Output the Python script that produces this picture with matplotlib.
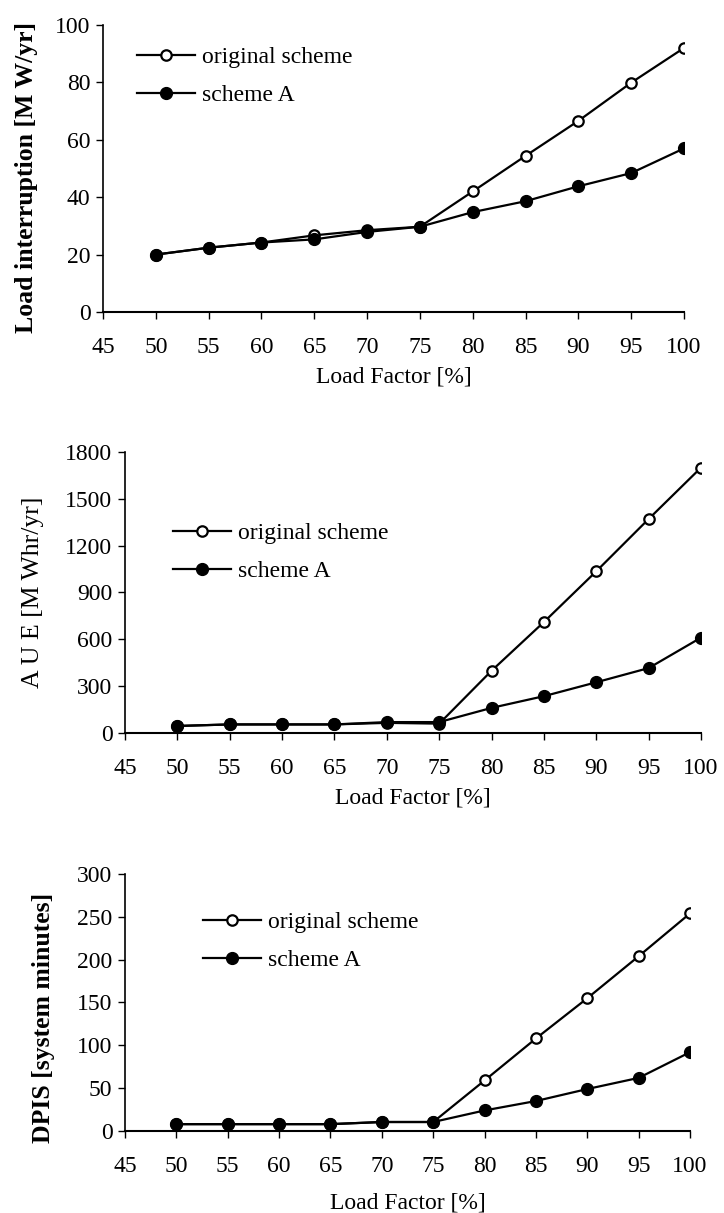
import numpy as np
import matplotlib.pyplot as plt

load_factor = [50, 55, 60, 65, 70, 75, 80, 85, 90, 95, 100]

li_original = [20, 22.4, 24.2, 26.7, 28.5, 29.7, 42, 54.4, 66.6, 79.9, 92]
li_scheme_a = [20, 22.4, 24.2, 25.3, 27.9, 29.7, 34.8, 38.6, 43.8, 48.4, 57]

aue_original = [45, 55, 55, 55, 65, 60, 399, 711, 1036, 1371, 1700]
aue_scheme_a = [45, 55, 55, 55, 70, 70, 161, 236, 325, 416, 611]

dpis_original = [8, 8, 8, 8, 10.5, 10.5, 59, 108, 155, 204, 254]
dpis_scheme_a = [8, 8, 8, 8, 10.5, 10.5, 24, 35, 49, 62, 92]

xticks = [45, 50, 55, 60, 65, 70, 75, 80, 85, 90, 95, 100]

plt.rcParams['font.family'] = ['Liberation Serif', 'DejaVu Serif']
plt.rcParams['font.size'] = 17

fig = plt.figure(figsize=(7.24, 12.13), dpi=100)

panels = [
    dict(rect=[0.1423, 0.7428, 0.8025, 0.2366], orig=li_original, a=li_scheme_a,
         ylim=(0, 100), yticks=[0, 20, 40, 60, 80, 100],
         ylabel='Load interruption [M W/yr]', ybold=True, ylab_xy=(-0.112, 0.47),
         xlab_y=-0.19, leg=(0.189, 0.9373)),
    dict(rect=[0.1727, 0.3957, 0.7956, 0.2317], orig=aue_original, a=aue_scheme_a,
         ylim=(0, 1800), yticks=[0, 300, 600, 900, 1200, 1500, 1800],
         ylabel='A U E [M Whr/yr]', ybold=False, ylab_xy=(-0.14, 0.5),
         xlab_y=-0.195, leg=(0.239, 0.5449)),
    dict(rect=[0.1727, 0.0676, 0.7804, 0.2119], orig=dpis_original, a=dpis_scheme_a,
         ylim=(0, 300), yticks=[0, 50, 100, 150, 200, 250, 300],
         ylabel='DPIS [system minutes]', ybold=True, ylab_xy=(-0.124, 0.44),
         xlab_y=-0.24, leg=(0.280, 0.2238)),
]

for p in panels:
    ax = fig.add_axes(p['rect'])
    ax.plot(load_factor, p['orig'], color='black', lw=1.6, marker='o', ms=7.5,
            mfc='white', mec='black', mew=1.6, label='original scheme', zorder=3)
    ax.plot(load_factor, p['a'], color='black', lw=1.6, marker='o', ms=8.5,
            mfc='black', mec='black', label='scheme A', zorder=4)
    ax.set_xlim(45, 100)
    ax.set_xticks(xticks)
    ax.set_ylim(*p['ylim'])
    ax.set_yticks(p['yticks'])
    ax.spines['top'].set_visible(False)
    ax.spines['right'].set_visible(False)
    ax.spines['left'].set_linewidth(1.2)
    ax.spines['bottom'].set_linewidth(1.5)
    ax.tick_params(axis='x', direction='out', length=5, width=1, pad=13)
    ax.tick_params(axis='y', direction='out', length=5, width=1, pad=4)
    ax.set_xlabel('Load Factor [%]')
    ax.xaxis.set_label_coords(0.5, p['xlab_y'])
    ax.set_ylabel(p['ylabel'], fontsize=18.5,
                  fontweight='bold' if p['ybold'] else 'normal')
    ax.yaxis.set_label_coords(*p['ylab_xy'])
    ax.legend(loc='center left', bbox_to_anchor=p['leg'],
              bbox_transform=fig.transFigure, frameon=False,
              borderpad=0, borderaxespad=0,
              handlelength=2.45, handletextpad=0.3, labelspacing=0.7,
              fontsize=17)

fig.savefig('out.png', dpi=100)
